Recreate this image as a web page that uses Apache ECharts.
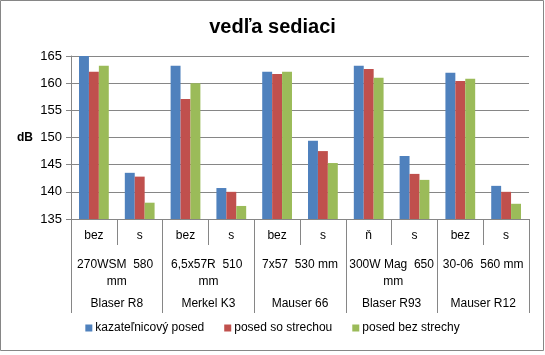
<!DOCTYPE html>
<html>
<head>
<meta charset="utf-8">
<script src="https://cdn.jsdelivr.net/npm/echarts@6/dist/echarts.min.js"></script>
<style>
html,body{margin:0;padding:0;background:#fff;}
#c{width:545px;height:355px;}
</style>
</head>
<body>
<div id="c"></div>
<script>
const title = "vedľa sediaci";
const shotTypes = ["bez","s","bez","s","bez","s","ň","s","bez","s"];
const calibers = ["270WSM  580 mm","6,5x57R  510 mm","7x57  530 mm","300W Mag  650 mm","30-06  560 mm"];
const rifles = ["Blaser R8","Merkel K3","Mauser 66","Blaser R93","Mauser R12"];
const seriesNames = ["kazateľnicový posed","posed so strechou","posed bez strechy"];
const kazatelnicovy = [165, 143.5, 163.2, 140.7, 162.1, 149.4, 163.2, 146.6, 161.9, 141.1];
const soStrechou = [162.1, 142.8, 157.1, 140.0, 161.7, 147.5, 162.6, 143.3, 160.4, 140.0];
const bezStrechy = [163.2, 138.0, 160.0, 137.4, 162.1, 145.3, 161.0, 142.2, 160.8, 137.8];
const yTicks = {min:135, max:165, interval:5};

const FONT = "'Liberation Sans', Arial, sans-serif";
const GRAY = "#868686";
const colors = ["#4F81BD","#C0504D","#9BBB59"];

const chart = echarts.init(document.getElementById('c'), null, {renderer:'canvas'});
chart.setOption({
  animation:false,
  color: colors,
  textStyle:{fontFamily:FONT},
  title:{text:title, left:'center', top:12,
    textStyle:{fontFamily:FONT, fontSize:20, fontWeight:'bold', color:'#000'}},
  graphic:[{type:'rect', shape:{x:0.5,y:0.5,width:543,height:350},
    style:{fill:'none', stroke:GRAY, lineWidth:1}, silent:true}],
  legend:{bottom:16, left:'center', itemWidth:7, itemHeight:7, itemGap:20, icon:'rect',
    textStyle:{fontFamily:FONT, fontSize:12, color:'#000', padding:[0,0,0,-2]},
    data:seriesNames},
  grid:{left:71, right:16, top:56, bottom:136, containLabel:false},
  yAxis:{type:'value', min:yTicks.min, max:yTicks.max, interval:yTicks.interval,
    name:'dB', nameLocation:'middle', nameRotate:0, nameGap:38,
    nameTextStyle:{fontFamily:FONT, fontSize:12, fontWeight:'bold', color:'#000'},
    axisLine:{show:true, lineStyle:{color:GRAY}},
    axisTick:{show:true, length:5, lineStyle:{color:GRAY}},
    axisLabel:{margin:9, fontFamily:FONT, fontSize:13, color:'#000'},
    splitLine:{show:true, lineStyle:{color:GRAY}}},
  xAxis:[
    {type:'category', data:shotTypes, position:'bottom',
      axisLine:{show:true, lineStyle:{color:GRAY}},
      axisTick:{show:true, interval:0, length:26, lineStyle:{color:GRAY}},
      axisLabel:{interval:0, margin:11, fontFamily:FONT, fontSize:12, color:'#000'}},
    {type:'category', data:calibers, position:'bottom',
      axisLine:{show:false},
      axisTick:{show:true, interval:0, length:94, lineStyle:{color:GRAY}},
      axisLabel:{interval:0, margin:37, fontFamily:FONT, fontSize:12, color:'#000',
        width:88, overflow:'break', lineHeight:17, align:'center'}},
    {type:'category', data:rifles, position:'bottom',
      axisLine:{show:false}, axisTick:{show:false},
      axisLabel:{interval:0, margin:79, fontFamily:FONT, fontSize:12, color:'#000'}}
  ],
  series:[
    {name:seriesNames[0], type:'bar', xAxisIndex:0, data:kazatelnicovy, barGap:'0%', barCategoryGap:'35%'},
    {name:seriesNames[1], type:'bar', xAxisIndex:0, data:soStrechou, barGap:'0%', barCategoryGap:'35%'},
    {name:seriesNames[2], type:'bar', xAxisIndex:0, data:bezStrechy, barGap:'0%', barCategoryGap:'35%'}
  ]
});
</script>
</body>
</html>
